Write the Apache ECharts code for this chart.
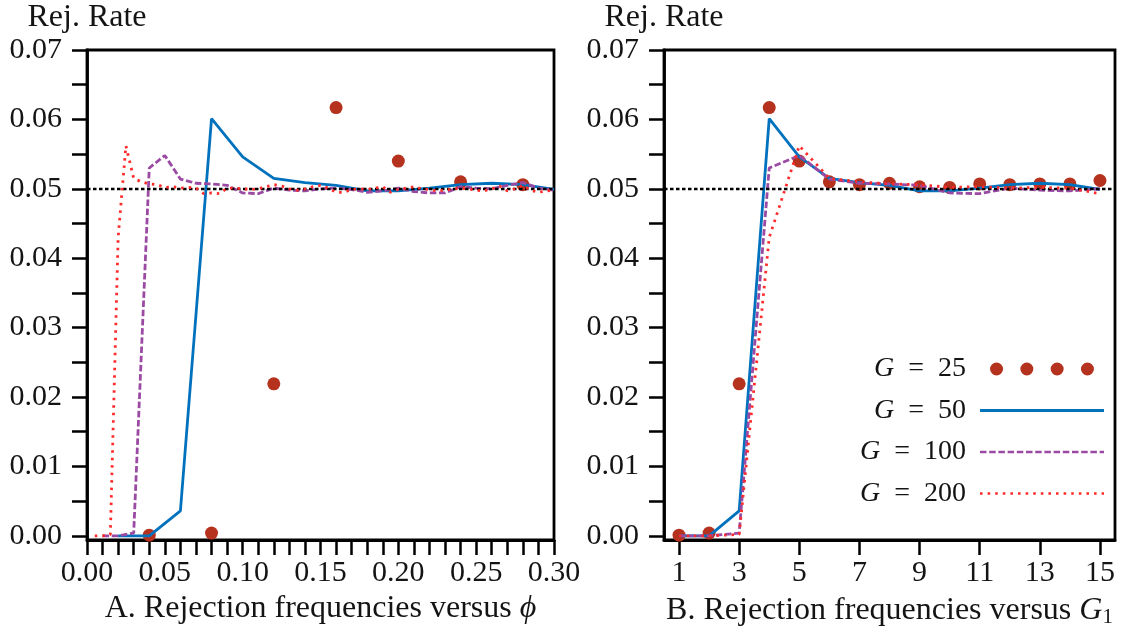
<!DOCTYPE html>
<html><head><meta charset="utf-8">
<script src="https://cdn.jsdelivr.net/npm/echarts@6/dist/echarts.min.js"></script>
<style>html,body{margin:0;padding:0;background:#fff}#c{width:1124px;height:635px}</style>
</head><body><div id="c"></div>
<script>
// ---------- data (rejection rates at G1 = 1, 2, 3, ...; phi = G1 / G) ----------
const groupSizes = [25, 50, 100, 200];
const seriesNames = ['G = 25', 'G = 50', 'G = 100', 'G = 200'];
const rejG25 = [0.0001, 0.0004, 0.0219, 0.0617, 0.0540, 0.0510, 0.0506, 0.0508, 0.0503, 0.0502,
                0.0507, 0.0506, 0.0507, 0.0507, 0.0512];
const rejG50 = [0.0000, 0.0000, 0.0036, 0.0601, 0.0546, 0.0515, 0.0509, 0.0505, 0.0497, 0.0497,
                0.0501, 0.0506, 0.0508, 0.0506, 0.0499];
const rejG100 = [0.0000, 0.0000, 0.0004, 0.0530, 0.0548, 0.0514, 0.0508, 0.0507, 0.0505, 0.0494,
                 0.0493, 0.0501, 0.0498, 0.0497, 0.0500, 0.0501, 0.0499, 0.0495, 0.0497, 0.0501,
                 0.0496, 0.0494, 0.0494, 0.0503, 0.0501, 0.0500, 0.0505, 0.0509, 0.0501, 0.0498];
const rejG200 = [0.0000, 0.0000, 0.0002, 0.0430, 0.0562, 0.0515, 0.0510, 0.0507, 0.0506, 0.0502,
                 0.0503, 0.0501, 0.0502, 0.0501, 0.0493, 0.0494, 0.0493, 0.0501, 0.0501, 0.0500,
                 0.0499, 0.0500, 0.0503, 0.0506, 0.0504, 0.0500, 0.0498, 0.0500, 0.0503, 0.0505,
                 0.0501, 0.0495, 0.0495, 0.0499, 0.0500, 0.0499, 0.0501, 0.0503, 0.0495, 0.0499,
                 0.0501, 0.0503, 0.0500, 0.0499, 0.0497, 0.0498, 0.0500, 0.0501, 0.0500, 0.0498,
                 0.0497, 0.0500, 0.0504, 0.0497, 0.0500, 0.0505, 0.0498, 0.0495, 0.0497, 0.0498];
const refLevel = 0.05;
const yTickValues = [0, 0.005, 0.01, 0.015, 0.02, 0.025, 0.03, 0.035, 0.04, 0.045, 0.05, 0.055, 0.06, 0.065, 0.07];
const yLabelValues = [0, 0.01, 0.02, 0.03, 0.04, 0.05, 0.06, 0.07];
const phiTickValues = [0, 0.01, 0.02, 0.03, 0.04, 0.05, 0.06, 0.07, 0.08, 0.09, 0.10, 0.11, 0.12, 0.13, 0.14, 0.15,
                       0.16, 0.17, 0.18, 0.19, 0.20, 0.21, 0.22, 0.23, 0.24, 0.25, 0.26, 0.27, 0.28, 0.29, 0.30];
const phiLabelValues = [0, 0.05, 0.10, 0.15, 0.20, 0.25, 0.30];
const g1LabelValues = [1, 3, 5, 7, 9, 11, 13, 15];
const leftTitle = 'A. Rejection frequencies versus ';
const rightTitle = 'B. Rejection frequencies versus ';
const yName = 'Rej. Rate';

// ---------- styling ----------
const FONT = 'Liberation Serif';
const TXT = '#141414';
const colors = ['#B5321E', '#0072BD', '#9B4AA3', '#FF2A2A'];
const dashTypes = [null, 'solid', [6.5, 2.7], [2.5, 5.0]];
const rejByG = [rejG25, rejG50, rejG100, rejG200];
const phiMax = 0.30, g1Max = 15;

function leftData(vals, G) { return vals.map((v, k) => [(k + 1) / G, v]).filter(p => p[0] <= phiMax + 1e-9); }
function rightData(vals) { return vals.slice(0, g1Max).map((v, k) => [k + 1, v]); }

function dotsPath(n, r, step) {
  let p = '';
  for (let k = 0; k < n; k++) { const cx = r + k * step; p += `M${cx - r},${r}a${r},${r} 0 1,0 ${2 * r},0a${r},${r} 0 1,0 ${-2 * r},0Z`; }
  return 'path://' + p;
}
function dashPath(total, dash, period, h) {
  let p = '';
  for (let x = 0; x < total - 0.01; x += period) { const w = Math.min(dash, total - x); p += `M${x},0h${w}v${h}h${-w}Z`; }
  return 'path://' + p;
}
const legendIcons = [dotsPath(4, 6.5, 30.3), dashPath(124, 124, 124, 2.8), dashPath(124, 6.5, 9.2, 2.7), dashPath(124, 2.6, 7.6, 2.6)];

const axisLine = { show: true, onZero: false, lineStyle: { color: '#000', width: 2.8 } };
const tickStyle = { color: '#000', width: 2.5 };
const labelBase = { fontFamily: FONT, fontSize: 30, color: TXT };
const richT = { t: { fontFamily: FONT, fontSize: 32, color: TXT },
                i: { fontFamily: FONT, fontSize: 32, fontStyle: 'italic', color: TXT },
                sub: { fontFamily: FONT, fontSize: 21, color: TXT, padding: [14, 0, 0, 0] } };

function yAxisCfg(gi) {
  return {
    type: 'value', gridIndex: gi, min: -0.0006, max: 0.07,
    axisLine, splitLine: { show: false },
    axisTick: { show: true, length: 15, lineStyle: tickStyle, customValues: yTickValues },
    axisLabel: Object.assign({ customValues: yLabelValues, margin: 25, formatter: v => v.toFixed(2) }, labelBase),
    name: yName, nameLocation: 'end', nameGap: 16,
    nameTextStyle: { fontFamily: FONT, fontSize: 32, color: TXT, align: 'center' }
  };
}

const series = [];
[0, 1].forEach(gi => {
  series.push({
    type: 'line', xAxisIndex: gi, yAxisIndex: gi, data: [], silent: true, z: 1,
    markLine: { silent: true, symbol: 'none', label: { show: false }, animation: false,
      lineStyle: { color: '#000', type: [3.5, 2.5], width: 2.3 }, data: [{ yAxis: refLevel }] }
  });
  rejByG.forEach((vals, i) => {
    const data = gi === 0 ? leftData(vals, groupSizes[i]) : rightData(vals);
    if (i === 0) {
      series.push({ name: seriesNames[i], type: 'scatter', xAxisIndex: gi, yAxisIndex: gi, data,
        symbol: 'circle', symbolSize: 13, itemStyle: { color: colors[i], opacity: 1 }, z: 2 });
    } else {
      series.push({ name: seriesNames[i], type: 'line', xAxisIndex: gi, yAxisIndex: gi, data,
        symbol: 'none', showSymbol: false, itemStyle: { color: colors[i] },
        lineStyle: { color: colors[i], width: 2.8, type: dashTypes[i] }, z: 2 + i });
    }
  });
});

const option = {
  animation: false,
  backgroundColor: '#fff',
  grid: [
    { left: 87, top: 50, width: 467, height: 490, show: true, borderColor: '#000', borderWidth: 2.8, backgroundColor: 'transparent' },
    { left: 664, top: 50, width: 451, height: 490, show: true, borderColor: '#000', borderWidth: 2.8, backgroundColor: 'transparent' }
  ],
  xAxis: [
    { type: 'value', gridIndex: 0, min: 0, max: phiMax, axisLine, splitLine: { show: false },
      axisTick: { show: true, length: 15, lineStyle: tickStyle, customValues: phiTickValues },
      axisLabel: Object.assign({ customValues: phiLabelValues, margin: 18, formatter: v => v.toFixed(2) }, labelBase),
      name: '{t|' + leftTitle + '}{i|ϕ}', nameLocation: 'middle', nameGap: 53,
      nameTextStyle: { rich: richT } },
    { type: 'value', gridIndex: 1, min: 0.5, max: 15.5, axisLine, splitLine: { show: false },
      axisTick: { show: true, length: 15, lineStyle: tickStyle, customValues: g1LabelValues },
      axisLabel: Object.assign({ customValues: g1LabelValues, margin: 18, formatter: v => String(v) }, labelBase),
      name: '{t|' + rightTitle + '}{i|G}{sub|1}', nameLocation: 'middle', nameGap: 53,
      nameTextStyle: { rich: richT } }
  ],
  yAxis: [yAxisCfg(0), yAxisCfg(1)],
  legend: {
    orient: 'vertical', right: 20, top: 355, align: 'right', padding: 0,
    itemWidth: 124, itemHeight: 13, itemGap: 13.5, selectedMode: false, symbolKeepAspect: true,
    textStyle: { fontFamily: FONT, fontSize: 28, color: TXT, lineHeight: 28,
      rich: { i: { fontFamily: FONT, fontSize: 28, fontStyle: 'italic', color: TXT }, s: { width: 9 } } },
    formatter: name => name.replace(' = ', '\u2002=\u2002').replace('G', '{i|G}') + '{s|}',
    data: seriesNames.map((n, i) => ({ name: n, icon: legendIcons[i], itemStyle: { color: colors[i], borderWidth: 0, opacity: 1 } }))
  },
  series
};
echarts.init(document.getElementById('c'), null, { renderer: 'canvas' }).setOption(option);
</script></body></html>
